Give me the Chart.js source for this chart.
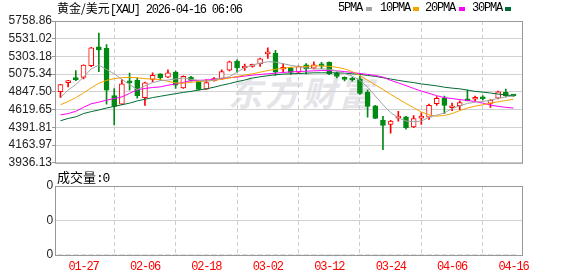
<!DOCTYPE html>
<html><head><meta charset="utf-8">
<script src="https://cdn.jsdelivr.net/npm/chart.js@4/dist/chart.umd.min.js"></script>
<style>
html,body{margin:0;padding:0;background:#fff;}
body{width:578px;height:276px;position:relative;overflow:hidden;font-family:"Liberation Sans",Arial,sans-serif;}
.abs{position:absolute;white-space:nowrap;}
canvas{position:absolute;left:0;z-index:1;}
#wm{left:228px;top:75px;font-family:"Noto Sans CJK SC";font-weight:bold;font-style:italic;font-size:34px;line-height:34px;color:#e4e4e9;letter-spacing:3px;z-index:0;}
.cjk{font-family:"Noto Sans CJK SC";}
.mono{font-family:"Liberation Mono",monospace;letter-spacing:-1.2px;}
#title{left:57px;top:1px;font-size:12px;line-height:14px;color:#000;z-index:2;}
.lg{top:1px;font-size:12px;line-height:14px;color:#000;z-index:2;}
.sq{top:7px;width:6px;height:4px;z-index:2;}
#vol{left:57px;top:169px;font-size:13px;line-height:16px;color:#000;z-index:2;}
</style></head>
<body>
<div id="wm" class="abs">东方财富</div>
<canvas id="main" width="578" height="170" style="top:0;width:578px;height:170px"></canvas>
<canvas id="volc" width="578" height="106" style="top:170px;width:578px;height:106px"></canvas>
<div id="title" class="abs"><span class="cjk">黄金/美元</span><span class="mono">[XAU] 2026-04-16 06:06</span></div>
<div id="legend"></div>
<div id="vol" class="abs"><span class="cjk">成交量</span><span class="mono">:0</span></div>
<script>
// ---- data ----
const categories = ['01-22','01-23','01-26','01-27','01-28','01-29','01-30','02-02','02-03','02-04','02-05','02-06',
 '02-09','02-10','02-11','02-12','02-13','02-16','02-17','02-18','02-19','02-20','02-23','02-24','02-25','02-26','02-27','03-02',
 '03-03','03-04','03-05','03-06','03-09','03-10','03-11','03-12','03-13','03-16','03-17','03-18','03-19','03-20','03-23','03-24',
 '03-25','03-26','03-27','03-30','03-31','04-01','04-02','04-06','04-07','04-08','04-09','04-10','04-13','04-14','04-15','04-16'];
const tickDates = ['01-27','02-06','02-18','03-02','03-12','03-24','04-06','04-16'];
const openP  = [4850,4967,5013,5034,5185,5428,5407,4799,4690,4975,4996,4774,5009,5080,5038,5101,4900,5038,4984,4883,
 4992,5017,5126,5243,5155,5176,5206,5336,5348,5139,5155,5101,5197,5151,5189,5227,5088,5017,5013,5017,
 4841,4669,4485,4431,4510,4527,4397,4510,4523,4695,4766,4644,4669,4753,4753,4774,4699,4766,4841,4803];
const highP  = [4946,4996,5122,5197,5419,5604,5457,4891,5005,5088,5026,4975,5093,5084,5130,5114,5055,5047,4992,5005,
 5030,5130,5243,5260,5206,5206,5281,5415,5382,5210,5164,5181,5210,5235,5227,5235,5101,5042,5034,5051,
 4870,4674,4535,4481,4598,4535,4544,4577,4690,4787,4795,4703,4732,4871,4795,4799,4749,4858,4883,4812];
const lowP   = [4774,4912,4992,5013,5172,5109,4690,4422,4682,4871,4766,4674,4975,4996,5030,4892,4892,4984,4871,4879,
 4984,5009,5118,5101,5122,5164,5176,5277,5059,5101,5072,5093,5080,5143,5143,5068,5026,4988,4984,4816,
 4523,4502,4104,4317,4472,4368,4389,4431,4494,4674,4569,4607,4619,4732,4724,4745,4648,4757,4782,4791];
const closeP = [4942,4992,5005,5193,5415,5386,4871,4661,4950,4963,4795,4963,5059,5030,5093,4933,5047,4996,4879,4967,
 5017,5109,5235,5155,5168,5193,5273,5348,5101,5151,5097,5172,5143,5197,5181,5080,5047,5009,5001,4829,
 4661,4506,4418,4472,4519,4389,4506,4519,4674,4766,4674,4653,4711,4732,4762,4757,4741,4850,4799,4795];
const ma5  = [4774,4871,4942,5038,5143,5193,5135,5080,5009,4942,4875,4925,4967,4992,5000,5013,5026,5009,4996,4984,
 5000,5026,5042,5101,5160,5193,5218,5235,5231,5210,5189,5172,5156,5143,5143,5139,5118,5084,5051,4996,
 4908,4795,4682,4581,4514,4473,4464,4473,4523,4548,4577,4632,4669,4699,4716,4724,4741,4766,4783,4795];
const ma10 = [4682,4724,4774,4833,4900,4959,4996,5017,5030,5034,5030,5017,5013,5005,4984,4963,4959,4971,4980,4988,
 4996,5009,5026,5047,5063,5080,5101,5122,5139,5151,5164,5172,5176,5181,5181,5176,5164,5143,5109,5059,
 4996,4938,4879,4816,4757,4699,4644,4590,4552,4535,4544,4569,4607,4640,4665,4682,4703,4720,4737,4753];
const ma20 = [4552,4569,4598,4649,4695,4716,4741,4762,4783,4829,4875,4892,4904,4912,4933,4950,4971,4992,4996,5000,
 5009,5017,5030,5038,5051,5063,5072,5080,5088,5097,5105,5109,5114,5118,5122,5122,5118,5109,5097,5084,
 5072,5059,5038,4996,4963,4929,4892,4858,4829,4799,4774,4762,4749,4737,4724,4703,4678,4661,4649,4640];
const ma30 = [4477,4506,4527,4569,4594,4615,4640,4661,4682,4703,4732,4753,4774,4791,4808,4825,4841,4854,4871,4887,
 4908,4933,4954,4980,5000,5026,5042,5055,5068,5076,5080,5084,5088,5093,5093,5093,5093,5088,5080,5072,
 5059,5047,5030,5013,4996,4980,4967,4950,4938,4925,4908,4896,4887,4871,4854,4845,4833,4820,4808,4799];
const yTicks = [3936.13,4163.97,4391.81,4619.65,4847.50,5075.34,5303.18,5531.02,5758.86];
const yTickLabels = ['3936.13','4163.97','4391.81','4619.65','4847.50','5075.34','5303.18','5531.02','5758.86'];
const volTicks = [0,1,2,3,4];
const volTickLabels = ['0','0','0','0','0'];
const legendNames = ['5PMA','10PMA','20PMA','30PMA'];
const maColors = ['#a3a3a3','#f5a300','#ff00ff','#006b33'];

// ---- styles ----
const UP = '#ff0000', DOWN = '#008a12';
const X_MIN = -0.712, X_MAX = 60.108;
const idx = categories.map((_, i) => i);
const tickIdx = tickDates.map(d => categories.indexOf(d));
const isUp = idx.map(i => closeP[i] >= openP[i]);

// legend (html text)
const lgPos = [[338,366],[380,413],[425,459],[472,505]];
const lgDiv = document.getElementById('legend');
legendNames.forEach((n, k) => {
  const t = document.createElement('div'); t.className = 'abs lg mono'; t.style.left = lgPos[k][0] + 'px'; t.textContent = n; lgDiv.appendChild(t);
  const s = document.createElement('div'); s.className = 'abs sq'; s.style.left = lgPos[k][1] + 'px'; s.style.background = maColors[k]; lgDiv.appendChild(s);
});

const frame = {id:'frame', afterDraw(chart){
  const {ctx, chartArea:a} = chart; ctx.save(); ctx.strokeStyle = '#999'; ctx.lineWidth = 1;
  ctx.strokeRect(a.left + 0.5, a.top + 0.5, a.right - a.left, a.bottom - a.top); ctx.restore();
}};

const xScaleBase = {
  type:'linear', min:X_MIN, max:X_MAX, offset:false,
  afterBuildTicks(s){ s.ticks = tickIdx.map(v => ({value:v})); },
  grid:{color:'#cdcdcd', drawTicks:false, tickBorderDash:[4,3]},
  border:{display:false, dash:[4,3]}
};

const lineDs = [ma5, ma10, ma20, ma30].map((arr, k) => ({
  type:'line', label:legendNames[k], data:arr.map((v, i) => ({x:i, y:v})),
  borderColor:maColors[k], borderWidth:1, pointRadius:0, tension:0, order:0, fill:false
}));

new Chart(document.getElementById('main'), {
  type:'bar',
  data:{datasets:[
    {type:'bar', label:'wick', data:idx.map(i => ({x:i, y:[lowP[i], highP[i]]})),
     backgroundColor:idx.map(i => isUp[i] ? UP : DOWN), borderWidth:0, barThickness:1, grouped:false, order:2},
    {type:'bar', label:'body', data:idx.map(i => ({x:i, y:[openP[i], closeP[i]]})),
     backgroundColor:idx.map(i => isUp[i] ? '#ffffff' : DOWN), borderColor:idx.map(i => isUp[i] ? UP : DOWN),
     borderWidth:1, borderSkipped:false, barThickness:5, minBarLength:2, grouped:false, order:1},
    ...lineDs
  ]},
  options:{
    responsive:false, animation:false, devicePixelRatio:1,
    layout:{padding:{top:21, bottom:4, left:0, right:56}, autoPadding:false},
    plugins:{legend:{display:false}, tooltip:{enabled:false}},
    scales:{
      x:{...xScaleBase, ticks:{display:false}, afterFit(s){ s.height = 0; }},
      y:{type:'linear', min:3936.13, max:5758.86,
         afterBuildTicks(s){ s.ticks = yTicks.map(v => ({value:v})); },
         afterFit(s){ s.width = 55; },
         ticks:{padding:0, color:'#222', font:{family:'Liberation Sans', size:12}, callback:(v, i) => yTickLabels[i]},
         grid:{color:'#d2d2d2', tickColor:'#999', tickLength:3, drawTicks:true},
         border:{display:false}}
    }
  },
  plugins:[frame]
});

const spacing = {id:'spacing', beforeDraw(chart){ chart.ctx.letterSpacing = '-1.2px'; }};
new Chart(document.getElementById('volc'), {
  type:'bar',
  data:{datasets:[{type:'bar', label:'成交量', data:idx.map(i => ({x:i, y:0})), backgroundColor:'#999', barThickness:5}]},
  options:{
    responsive:false, animation:false, devicePixelRatio:1,
    layout:{padding:{top:16, bottom:0, left:0, right:56}, autoPadding:false},
    plugins:{legend:{display:false}, tooltip:{enabled:false}},
    scales:{
      x:{...xScaleBase, afterFit(s){ s.height = 21; },
         ticks:{display:true, autoSkip:false, maxRotation:0, padding:5, color:'#ff0000',
                font:{family:'Liberation Mono', size:12}, callback:(v) => categories[v]}},
      y:{type:'linear', min:0, max:4,
         afterBuildTicks(s){ s.ticks = volTicks.map(v => ({value:v})); },
         afterFit(s){ s.width = 55; },
         ticks:{padding:0, color:'#222', font:{family:'Liberation Sans', size:12}, callback:(v, i) => volTickLabels[i]},
         grid:{color:'#d2d2d2', tickColor:'rgba(0,0,0,0)', tickLength:3, drawTicks:true},
         border:{display:false}}
    }
  },
  plugins:[frame, spacing]
});
</script>
</body></html>
